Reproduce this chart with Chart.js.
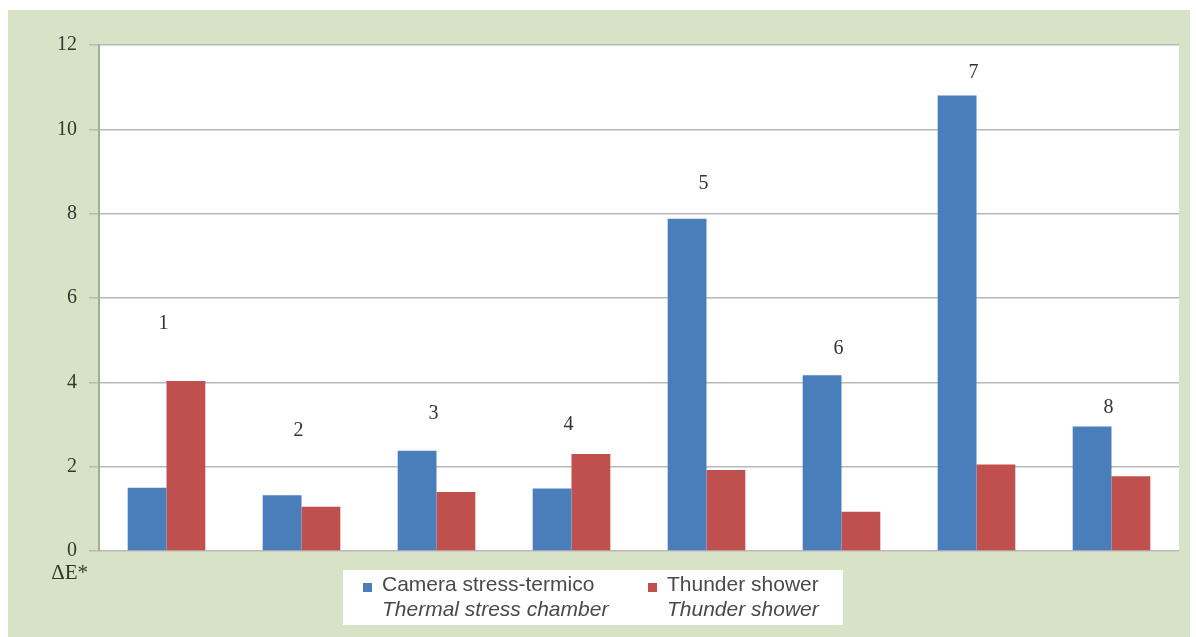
<!DOCTYPE html>
<html><head><meta charset="utf-8">
<script src="https://cdn.jsdelivr.net/npm/chart.js@4"></script>
<style>
html,body{margin:0;padding:0;background:#fff;overflow:hidden}
#wrap{position:absolute;left:0;top:0;width:1196px;height:637px}
</style></head>
<body><div id="wrap"><canvas id="c" width="1196" height="637"></canvas></div>
<script>
const categories = ['1','2','3','4','5','6','7','8'];
const thermalStress = [1.5, 1.32, 2.38, 1.48, 7.88, 4.17, 10.8, 2.95];
const thunderShower = [4.03, 1.05, 1.4, 2.3, 1.92, 0.93, 2.05, 1.77];
const groupLabelValues = [5.4, 2.85, 3.25, 3.0, 8.7, 4.8, 11.35, 3.4];
const yTicks = [0, 2, 4, 6, 8, 10, 12];
const seriesLine1 = ['Camera stress-termico', 'Thunder shower'];
const seriesLine2 = ['Thermal stress chamber', 'Thunder shower'];
const yAxisTitle = 'ΔE*';

const BLUE = '#4a7ebb', RED = '#c0504d', GREEN = '#d8e2c7';

const decor = {
  id: 'decor',
  beforeDraw(chart) {
    const ctx = chart.ctx, a = chart.chartArea;
    ctx.save();
    ctx.fillStyle = GREEN;
    ctx.fillRect(8, 10, 1182, 627);
    ctx.fillStyle = '#ffffff';
    ctx.fillRect(a.left, a.top, a.right - a.left, a.bottom - a.top);
    ctx.restore();
  },
  afterDatasetsDraw(chart) {
    const ctx = chart.ctx, xs = chart.scales.x, ys = chart.scales.y;
    ctx.save();
    ctx.fillStyle = '#333333';
    ctx.font = '20px "Liberation Serif", serif';
    ctx.textAlign = 'center';
    ctx.textBaseline = 'middle';
    categories.forEach((c, i) => {
      ctx.fillText(c, xs.getPixelForValue(i) - 3, ys.getPixelForValue(groupLabelValues[i]));
    });
    // axis title
    ctx.fillStyle = '#2e3a2e';
    ctx.font = '21px "Liberation Serif", serif';
    ctx.textAlign = 'right';
    ctx.fillText(yAxisTitle, ys.right - 11, ys.bottom + 22);
    // legend
    const bx = 343, by = 570, bw = 500, bh = 55;
    ctx.fillStyle = '#ffffff';
    ctx.fillRect(bx, by, bw, bh);
    const cols = [BLUE, RED];
    const itemX = [363, 648];
    ctx.textAlign = 'left';
    for (let k = 0; k < 2; k++) {
      ctx.fillStyle = cols[k];
      ctx.fillRect(itemX[k], by + 13, 9, 9);
      ctx.fillStyle = '#4a4a4a';
      ctx.font = '21px "Liberation Sans", Arial, sans-serif';
      ctx.fillText(seriesLine1[k], itemX[k] + 19, by + 15);
      ctx.font = 'italic 21px "Liberation Sans", Arial, sans-serif';
      ctx.fillText(seriesLine2[k], itemX[k] + 19, by + 40);
    }
    ctx.restore();
  }
};

new Chart(document.getElementById('c'), {
  type: 'bar',
  data: {
    labels: categories,
    datasets: [
      { label: seriesLine1[0], data: thermalStress, backgroundColor: BLUE, categoryPercentage: 0.575, barPercentage: 1 },
      { label: seriesLine1[1], data: thunderShower, backgroundColor: RED, categoryPercentage: 0.575, barPercentage: 1 }
    ]
  },
  options: {
    responsive: false,
    animation: false,
    devicePixelRatio: 1,
    layout: { padding: { left: 0, right: 17, top: 45, bottom: 0 } },
    plugins: { legend: { display: false }, tooltip: { enabled: false } },
    scales: {
      x: {
        ticks: { display: false },
        grid: { display: false },
        border: { display: false },
        afterFit(s) { s.height = 86; }
      },
      y: {
        min: 0, max: 12,
        afterBuildTicks(s) { s.ticks = yTicks.map(v => ({ value: v })); },
        ticks: { color: '#2e3a2e', font: { family: '"Liberation Serif", serif', size: 20 }, padding: 12 },
        grid: { color: '#b9b9b9', lineWidth: 1.5, tickLength: 10 },
        border: { color: '#a3ad97', width: 2 },
        afterFit(s) { s.width = 99; }
      }
    }
  },
  plugins: [decor]
});
</script>
</body></html>
